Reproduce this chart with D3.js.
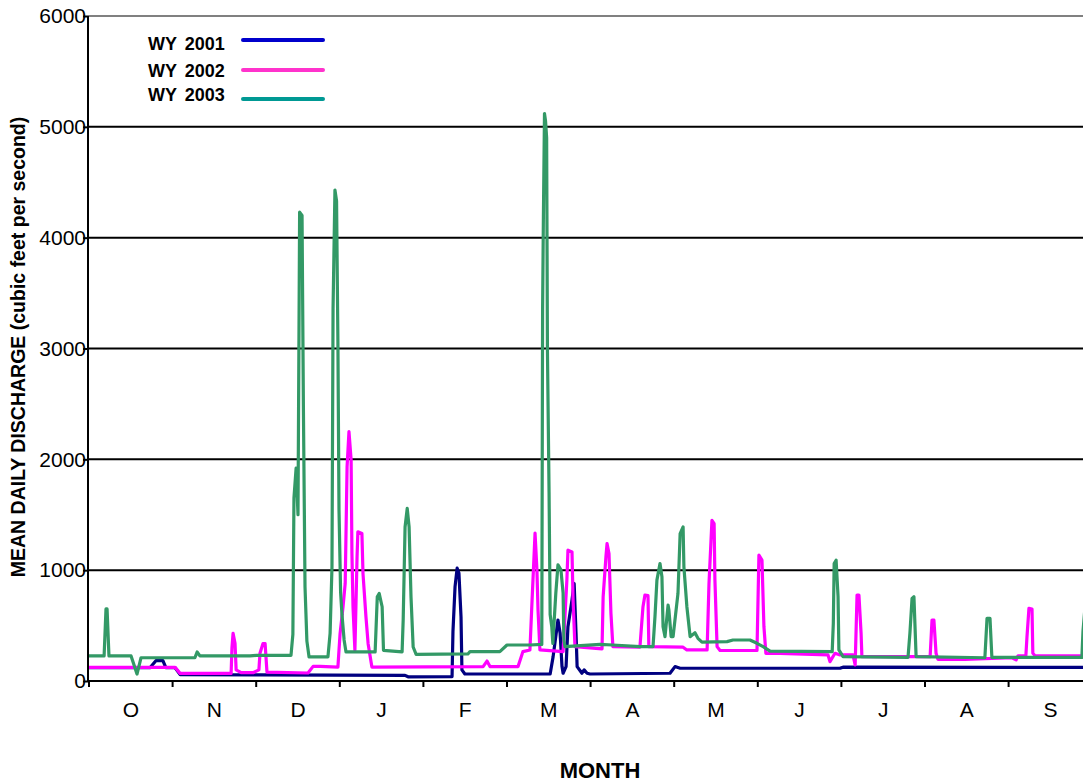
<!DOCTYPE html>
<html>
<head>
<meta charset="utf-8">
<script src="https://cdn.jsdelivr.net/npm/d3@7"></script>
<style>
  body { margin: 0; background: #fff; }
  svg { display: block; font-family: "Liberation Sans", Arial, sans-serif; }
</style>
</head>
<body>
<div id="viz"></div>
<script>
// month labels of the water year (Oct - Sep) and the day each month starts on
const months = ["O", "N", "D", "J", "F", "M", "A", "M", "J", "J", "A", "S"];
const monthStart = [0, 31, 61, 92, 123, 151, 182, 212, 243, 273, 304, 335, 365];
const yTicks = [0, 1000, 2000, 3000, 4000, 5000, 6000];

// [day of water year, mean daily discharge cfs]
const wy2001 = [
  [0, 120], [22.6, 120], [24.8, 183], [27.4, 183], [28.5, 120], [31.9, 120], [33.7, 58],
  [62.4, 55], [116.2, 51], [117.3, 38], [132.6, 40], [132.9, 445], [133.6, 852],
  [134.3, 1018], [134.9, 973], [135.6, 580], [135.9, 100], [136.9, 63], [167.0, 63],
  [168.1, 220], [169.9, 550], [170.7, 430], [171.4, 130], [171.8, 70], [172.9, 130],
  [173.6, 490], [175.1, 730], [175.9, 880], [176.6, 430], [177.0, 130], [178.8, 70],
  [179.6, 100], [180.7, 70], [181.8, 63], [210.5, 70], [212.3, 130], [214.2, 115],
  [272.5, 115], [273.6, 125], [365, 123]
];

const wy2002 = [
  [0, 123], [31.9, 123], [33.7, 69], [52.0, 69], [52.3, 300], [52.7, 430], [53.4, 340],
  [53.8, 100], [55.6, 75], [59.9, 75], [62.0, 100], [62.4, 250], [63.5, 337], [64.3, 337],
  [65.0, 80], [80.2, 72], [82.1, 132], [84.7, 132], [91.3, 126], [92.1, 428], [93.2, 669],
  [94.0, 880], [94.7, 1934], [95.4, 2250], [96.2, 1994], [96.5, 1150], [96.9, 669],
  [97.6, 277], [98.4, 1120], [98.7, 1346], [100.2, 1331], [100.6, 970], [101.7, 578],
  [102.5, 337], [103.9, 126], [143.0, 130], [144.3, 180], [145.3, 130], [155.1, 130],
  [156.9, 265], [159.5, 280], [160.3, 730], [161.4, 1334], [162.1, 1000], [162.5, 640],
  [163.2, 280], [171.8, 265], [173.2, 910], [173.6, 1180], [175.1, 1165], [175.5, 730],
  [176.2, 310], [186.1, 290], [186.5, 760], [187.5, 1120], [187.9, 1240], [188.6, 1150],
  [189.3, 610], [190.0, 310], [199.7, 305], [200.8, 670], [201.5, 775], [202.6, 770],
  [202.9, 310], [215.3, 305], [216.7, 280], [224.2, 280], [224.9, 880], [226.0, 1450],
  [226.8, 1420], [227.1, 910], [227.9, 310], [229.0, 275], [242.7, 275], [243.4, 1135],
  [244.5, 1090], [245.2, 490], [245.9, 250], [251.0, 250], [268.2, 235], [268.9, 175],
  [270.7, 250], [272.5, 235], [277.3, 235], [278.1, 145], [278.8, 775], [279.5, 775],
  [280.3, 430], [280.6, 220], [305.9, 220], [306.6, 550], [307.3, 550], [308.1, 250],
  [308.8, 195], [318.8, 195], [336.2, 210], [337.7, 190], [338.4, 228], [341.2, 228],
  [341.6, 400], [342.3, 655], [343.4, 650], [343.7, 250], [344.5, 228], [365, 228]
];

const wy2003 = [
  [0, 226], [5.6, 226], [6.3, 650], [6.7, 650], [7.4, 226], [15.6, 226], [17.8, 63],
  [19.3, 210], [39.0, 210], [39.8, 262], [40.8, 226], [58.8, 226], [61, 232], [73.9, 232],
  [74.6, 420], [75.0, 1650], [75.8, 1920], [76.5, 1500], [77.1, 4230], [78.0, 4200],
  [78.5, 2480], [79.1, 850], [79.8, 360], [80.6, 217], [87.6, 217], [88.4, 430],
  [89.1, 1030], [89.5, 3360], [90.2, 4430], [90.8, 4330], [91.3, 3050], [91.7, 1550],
  [92.3, 800], [92.8, 600], [93.6, 370], [94.3, 262], [105.1, 262], [105.9, 760],
  [106.6, 790], [107.7, 670], [108.2, 277], [115.1, 262], [115.5, 548], [116.2, 1390],
  [117.0, 1557], [117.7, 1390], [118.4, 760], [119.2, 307], [120.3, 240], [137.9, 244],
  [138.6, 265], [148.6, 265], [151, 325], [159.5, 325], [163.9, 330], [164.2, 3350],
  [164.5, 4200], [164.9, 5120], [165.3, 5050], [165.7, 4900], [166.0, 2970], [166.6, 1700],
  [167.0, 600], [167.6, 490], [168.0, 340], [169.1, 792], [169.9, 1048], [171.0, 1003],
  [171.8, 792], [172.1, 370], [172.5, 310], [185.4, 330], [190.0, 325], [199.7, 310],
  [204.4, 310], [205.1, 580], [205.8, 910], [206.9, 1060], [207.6, 940], [208.0, 490],
  [208.7, 400], [209.8, 685], [210.1, 640], [210.9, 400], [211.6, 400], [213.4, 790],
  [214.2, 1330], [215.3, 1390], [215.6, 1030], [216.7, 670], [217.9, 400], [219.7, 435],
  [220.8, 385], [222.3, 350], [231.6, 355], [233.8, 370], [240.1, 370], [242.7, 340],
  [244.9, 310], [247.4, 270], [269.7, 265], [270.1, 520], [270.4, 1060], [271.1, 1090],
  [271.8, 760], [272.1, 280], [273.6, 220], [297.7, 213], [298.4, 430], [299.2, 745],
  [299.9, 760], [300.7, 220], [326.2, 210], [327.0, 565], [328.1, 565], [328.8, 213],
  [361.3, 213], [361.7, 450], [362.4, 660], [363.5, 660], [364.2, 300], [365, 230]
];

const series = [
  { name: "WY 2001", values: wy2001, color: "#000080", key: "#0000cc" },
  { name: "WY 2002", values: wy2002, color: "#ff00ff", key: "#ff33cc" },
  { name: "WY 2003", values: wy2003, color: "#339966", key: "#009994" }
];

const W = 1083, H = 782;
const plotLeft = 88, plotTop = 16, plotBottom = 681, monthW = 83.6;

const svg = d3.select("#viz")
  .append("svg")
  .attr("width", W)
  .attr("height", H);

// months are drawn the same width, so the day scale is piecewise
const x = d3.scaleLinear()
  .domain(monthStart)
  .range(monthStart.map((d, i) => plotLeft + 1 + i * monthW));

const y = d3.scaleLinear()
  .domain([0, 6000])
  .range([plotBottom, plotTop]);

// gridlines
svg.append("g")
  .selectAll("line")
  .data(yTicks.filter(d => d > 0))
  .join("line")
  .attr("x1", plotLeft)
  .attr("x2", W)
  .attr("y1", d => y(d))
  .attr("y2", d => y(d))
  .attr("stroke", d => d === 6000 ? "#808080" : "#000")
  .attr("stroke-width", 2);

// y axis
const yAxis = svg.append("g")
  .attr("transform", `translate(${plotLeft},0)`)
  .call(d3.axisLeft(y).tickValues(yTicks).tickSize(5).tickPadding(-3).tickFormat(d3.format("d")));
yAxis.select(".domain").attr("stroke-width", 2).attr("d", `M0,${y(6000)}V${plotBottom}`);
yAxis.selectAll(".tick line").attr("stroke-width", 2);
yAxis.selectAll("text")
  .attr("font-size", 21)
  .attr("font-family", "Liberation Sans, Arial, sans-serif")
  .attr("fill", "#000");

// x axis line and month ticks
svg.append("line")
  .attr("x1", plotLeft)
  .attr("x2", W)
  .attr("y1", plotBottom)
  .attr("y2", plotBottom)
  .attr("stroke", "#000")
  .attr("stroke-width", 2);

svg.append("g")
  .selectAll("line")
  .data(monthStart.slice(0, 12))
  .join("line")
  .attr("x1", d => x(d))
  .attr("x2", d => x(d))
  .attr("y1", plotBottom)
  .attr("y2", plotBottom + 6)
  .attr("stroke", "#000")
  .attr("stroke-width", 2);

svg.append("g")
  .selectAll("text")
  .data(months)
  .join("text")
  .attr("x", (d, i) => (x(monthStart[i]) + x(monthStart[i + 1])) / 2)
  .attr("y", 717)
  .attr("text-anchor", "middle")
  .attr("font-size", 21)
  .text(d => d);

// lines
const line = d3.line()
  .x(d => x(d[0]))
  .y(d => y(d[1]));

svg.append("g")
  .selectAll("path")
  .data(series)
  .join("path")
  .attr("d", d => line(d.values))
  .attr("fill", "none")
  .attr("stroke", d => d.color)
  .attr("stroke-width", 3.2)
  .attr("stroke-linejoin", "round");

// legend
const legend = svg.append("g")
  .selectAll("g")
  .data(series)
  .join("g");

legend.append("text")
  .attr("x", 148)
  .attr("y", (d, i) => [50, 77, 101][i])
  .attr("font-size", 18)
  .attr("font-weight", "bold")
  .attr("word-spacing", 3)
  .text(d => d.name);

legend.append("line")
  .attr("x1", 243)
  .attr("x2", 323)
  .attr("y1", (d, i) => [40, 70, 99][i])
  .attr("y2", (d, i) => [40, 70, 99][i])
  .attr("stroke", d => d.key)
  .attr("stroke-width", 4)
  .attr("stroke-linecap", "round");

// axis titles
svg.append("text")
  .attr("x", 600)
  .attr("y", 778)
  .attr("text-anchor", "middle")
  .attr("font-size", 22)
  .attr("font-weight", "bold")
  .text("MONTH");

svg.append("text")
  .attr("transform", "translate(25,347) rotate(-90)")
  .attr("text-anchor", "middle")
  .attr("font-size", 19.5)
  .attr("font-weight", "bold")
  .text("MEAN DAILY DISCHARGE (cubic feet per second)");
</script>
</body>
</html>
